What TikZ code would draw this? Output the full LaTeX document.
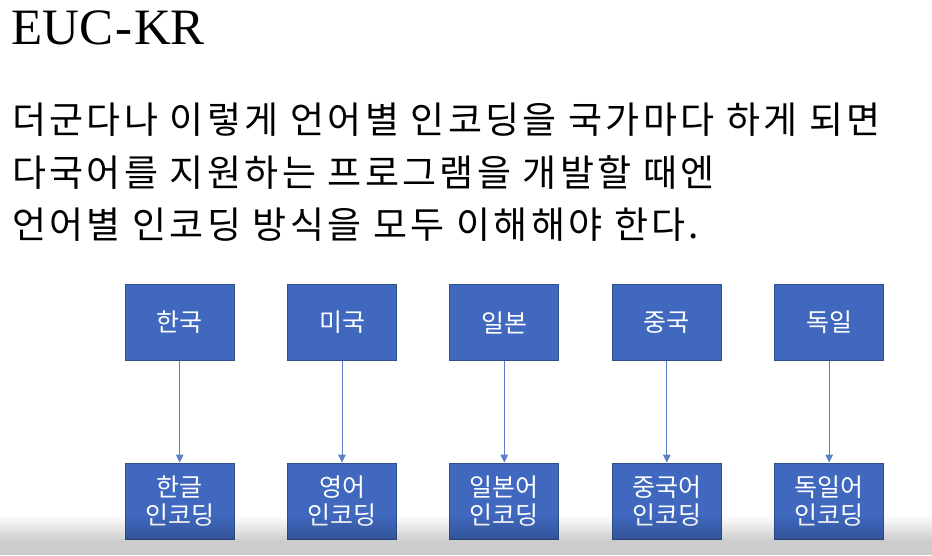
\documentclass[tikz,border=0pt]{standalone}
\usepackage{fontspec}
\setmainfont{Liberation Serif}
\newfontfamily\kr{Noto Sans CJK KR}
\newfontfamily\krbody[LetterSpace=9]{Noto Sans CJK KR}
\usetikzlibrary{arrows.meta}
\definecolor{boxblue}{HTML}{4068BE}
\definecolor{boxedge}{HTML}{2F528F}
\definecolor{arrowblue}{HTML}{5B7FC7}
\begin{document}
\begin{tikzpicture}[x=1pt,y=-1pt,
  cbox/.style={draw=boxedge, line width=0.8pt, fill=boxblue, minimum width=109pt, minimum height=76pt, inner sep=0pt, text=white, font=\kr\fontsize{25}{28}\selectfont, align=center},
  link/.style={draw=arrowblue, line width=0.9pt, -{Triangle[width=7.5pt,length=8pt]}},
  bodytext/.style={anchor=base west, inner sep=0pt, font=\krbody\fontsize{37}{52}\selectfont}]
\useasboundingbox[fill=white] (0,0) rectangle (932,555);
\node[anchor=base west, inner sep=0pt, font=\fontsize{51}{60}\selectfont] (title) at (11,44) {EUC{\kern2pt}-{\kern2pt}KR};
\node[bodytext] (l1) at (12,133) {더군다나 이렇게 언어별 인코딩을 국가마다 하게 되면};
\node[bodytext] (l2) at (12,186) {다국어를 지원하는 프로그램을 개발할 때엔};
\node[bodytext] (l3) at (12,238) {언어별 인코딩 방식을 모두 이해해야 한다.};
\foreach \n/\x/\a/\b in {1/179.7/한국/한글, 2/342/미국/영어, 3/504.3/일본/일본어, 4/666.8/중국/중국어, 5/829.2/독일/독일어}{
  \node[cbox] (t\n) at (\x,322.5) {\a};
  \node[cbox] (b\n) at (\x,501) {\b\\인코딩};
  \draw[link] (t\n) -- (b\n);
}
\foreach \i in {0,...,39}{
  \pgfmathsetmacro\op{min(\i/26,1)*0.2}
  \fill[black, opacity=\op] (0,515+\i) rectangle (932,516+\i);
}
\end{tikzpicture}
\end{document}
